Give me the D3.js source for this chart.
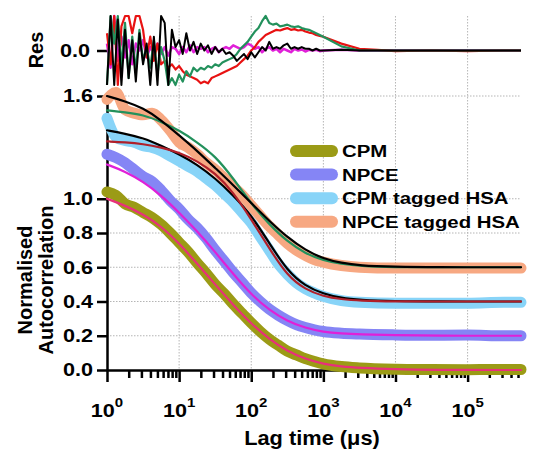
<!DOCTYPE html>
<html>
<head>
<meta charset="utf-8">
<script src="https://cdn.jsdelivr.net/npm/d3@7"></script>
<style>
    body { margin: 0; background: #fff; }
    text { font-family: "Liberation Sans", Arial, sans-serif; font-weight: bold; fill: #000; }
</style>
</head>
<body>
<div id="chart"></div>
<script>
// lag times (us) for the fitted curves
var fitLag = [1, 1.78, 3.16, 5.62, 10, 17.8, 31.6, 56.2, 100, 178, 316, 562, 1000, 1780, 3160, 10000, 31600, 550000];
var cpmFit = [1.00, 0.96, 0.91, 0.84, 0.74, 0.62, 0.50, 0.38, 0.27, 0.18, 0.11, 0.065, 0.035, 0.02, 0.012, 0.004, 0.0, 0.0];
var npceFit = [1.20, 1.16, 1.10, 1.02, 0.92, 0.81, 0.69, 0.56, 0.44, 0.35, 0.285, 0.245, 0.222, 0.213, 0.208, 0.203, 0.20, 0.20];
var cpmHsaFitBlack = [1.40, 1.38, 1.355, 1.31, 1.26, 1.20, 1.12, 1.02, 0.905, 0.74, 0.58, 0.49, 0.445, 0.42, 0.41, 0.402, 0.40, 0.40];
var cpmHsaFitRed = [1.335, 1.33, 1.32, 1.30, 1.27, 1.22, 1.15, 1.04, 0.88, 0.71, 0.55, 0.47, 0.43, 0.413, 0.405, 0.40, 0.40, 0.40];
var npceHsaFitBlack = [1.60, 1.57, 1.53, 1.46, 1.37, 1.28, 1.18, 1.08, 0.975, 0.87, 0.775, 0.70, 0.65, 0.625, 0.61, 0.603, 0.60, 0.60];
var npceHsaFitGreen = [1.516, 1.505, 1.49, 1.45, 1.40, 1.33, 1.25, 1.12, 0.97, 0.85, 0.75, 0.68, 0.64, 0.62, 0.607, 0.60, 0.60, 0.60];

// lag times (us) for the measured curves
var dataLag = [1, 1.33, 1.78, 2.37, 3.16, 4.22, 5.62, 7.5, 10, 13.3, 17.8, 23.7, 31.6, 42.2, 56.2, 75, 100, 133, 178, 237, 316, 422, 562, 750, 1000, 1780, 3160, 10000, 31600, 100000, 316000, 550000];
var cpmData = [1.04, 1.02, 0.97, 0.95, 0.92, 0.89, 0.85, 0.80, 0.745, 0.69, 0.625, 0.565, 0.50, 0.445, 0.385, 0.33, 0.275, 0.225, 0.18, 0.145, 0.11, 0.088, 0.066, 0.05, 0.036, 0.02, 0.012, 0.005, 0.003, 0.002, 0.003, 0.003];
var npceData = [1.26, 1.24, 1.21, 1.17, 1.13, 1.10, 1.05, 0.99, 0.94, 0.88, 0.83, 0.77, 0.70, 0.635, 0.57, 0.51, 0.45, 0.40, 0.355, 0.32, 0.29, 0.265, 0.248, 0.235, 0.225, 0.215, 0.21, 0.205, 0.203, 0.204, 0.20, 0.20];
var cpmHsaData = [1.47, 1.36, 1.34, 1.33, 1.31, 1.30, 1.28, 1.25, 1.22, 1.19, 1.16, 1.12, 1.08, 1.03, 0.98, 0.92, 0.86, 0.78, 0.70, 0.62, 0.56, 0.51, 0.475, 0.45, 0.43, 0.405, 0.395, 0.39, 0.39, 0.39, 0.395, 0.395];
var npceHsaData = [1.58, 1.62, 1.52, 1.50, 1.49, 1.50, 1.46, 1.40, 1.33, 1.30, 1.26, 1.21, 1.17, 1.12, 1.07, 1.02, 0.96, 0.90, 0.84, 0.79, 0.74, 0.70, 0.67, 0.645, 0.63, 0.61, 0.60, 0.595, 0.595, 0.595, 0.595, 0.595];

// residuals (relative units, panel spans -1..1)
var resLag = [1, 1.122, 1.259, 1.413, 1.585, 1.778, 1.995, 2.239, 2.512, 2.818, 3.162, 3.548, 3.981, 4.467, 5.012, 5.623, 6.31, 7.079, 7.943, 8.913,
    10, 11.22, 12.59, 14.13, 15.85, 17.78, 19.95, 22.39, 25.12, 28.18, 31.62, 35.48, 39.81, 44.67, 50.12, 56.23, 63.1, 70.79, 79.43, 89.13,
    100, 112.2, 125.9, 141.3, 158.5, 177.8, 199.5, 223.9, 251.2, 281.8, 316.2, 354.8, 398.1, 446.7, 501.2, 562.3, 631, 707.9, 794.3, 891.3,
    1000, 1778, 3162, 5623, 10000, 31620, 100000, 316200, 550000];
var resMagenta = [0.2, -0.5, 1, -0.3, 0.4, -0.2, 0.3, -0.4, 0.2, 0.0, 0.3, -0.2, 0.1, -0.1, 0.2, -0.1, 0.1, -0.15, 0.1, 0.05,
    -0.1, 0.1, -0.05, 0.15, -0.05, 0.1, 0.05, 0.1, -0.05, 0.05, 0.1, -0.05, 0.05, 0.1, 0.05, 0.15, 0.1, 0.05, 0.1, 0.2,
    0.15, 0.05, 0.1, -0.05, 0.05, 0.1, 0.0, 0.05, -0.05, 0.05, 0.0, -0.05, 0.05, 0.0, 0.03, -0.03, 0.02, 0.0, 0.02, -0.02,
    0.0, 0.02, 0.0, 0.01, 0.0, 0.0, 0.0, 0.0, 0.0];
var resRed = [0.5, -0.4, 1, -1, 0.7, 1, 1, 0.5, 1, 1, 0.6, -0.2, 0.4, -0.3, 0.2, -0.4, -0.3, -0.5, -0.4, -0.55,
    -0.45, -0.6, -0.7, -0.75, -0.8, -0.85, -0.95, -0.9, -0.95, -0.8, -0.75, -0.7, -0.65, -0.6, -0.55, -0.5, -0.45, -0.35, -0.25, -0.15,
    0.0, 0.1, 0.25, 0.35, 0.45, 0.5, 0.55, 0.6, 0.58, 0.62, 0.65, 0.6, 0.62, 0.58, 0.6, 0.55, 0.52, 0.5, 0.45, 0.42,
    0.4, 0.2, 0.05, 0.02, -0.02, 0.0, -0.02, 0.0, 0.0];
var resGreen = [-1, 1, 0.2, 1, -0.5, 0.8, -0.8, 0.4, -0.6, 0.6, -0.3, 0.1, -0.5, 0.3, -0.7, 0.1, -0.3, -1, -0.8, -1,
    -0.7, -0.9, -0.6, -0.75, -0.5, -0.6, -0.5, -0.55, -0.45, -0.5, -0.4, -0.45, -0.35, -0.3, -0.25, -0.2, -0.1, 0.05, 0.15, 0.25,
    0.4, 0.55, 0.65, 0.85, 1.0, 0.8, 0.75, 0.78, 0.7, 0.72, 0.75, 0.7, 0.68, 0.7, 0.65, 0.62, 0.6, 0.55, 0.5, 0.45,
    0.4, 0.12, 0.0, 0.0, 0.0, 0.0, 0.0, 0.0, 0.0];
var resBlack = [-1, 1, -1, 0.9, -1, 0.6, -0.8, 0.3, -0.9, 0.5, -0.4, 0.2, -1, 0.4, -1, 1, 0.8, -1, 0.6, 0.1,
    0.3, -0.1, 0.5, 0.0, 0.25, -0.1, 0.2, 0.0, 0.15, -0.1, 0.1, -0.05, 0.05, -0.1, -0.05, -0.15, -0.3, -0.2, -0.1, -0.25,
    -0.05, -0.2, -0.05, 0.1, 0.0, 0.25, 0.05, 0.1, 0.05, 0.15, 0.2, 0.05, 0.1, 0.05, 0.1, 0.05, 0.05, 0.0, 0.05, 0.0,
    0.0, 0.02, 0.0, 0.0, 0.0, 0.0, 0.0, 0.0, 0.0];

var legendNames = ["CPM", "NPCE", "CPM tagged HSA", "NPCE tagged HSA"];
var yTicks = [0, 0.2, 0.4, 0.6, 0.8, 1.0, 1.6];
var xMajor = [1, 10, 100, 1000, 10000, 100000];
var xExp = ["0", "1", "2", "3", "4", "5"];

var w = 541, h = 450;
var SX = 1.2; // text in the picture is drawn wide

var svg = d3.select("#chart")
    .append("svg")
    .attr("width", w)
    .attr("height", h);

var xscale = d3.scaleLog().domain([1, 550000]).range([107, 521]);
var yscale = d3.scaleLinear().domain([0, 1.6]).range([370, 96]);
var rscale = d3.scaleLinear().domain([-1, 1]).range([85, 16]);

function wideText(g, x, y, str, size, anchor) {
    return g.append("text")
        .attr("transform", "translate(" + x + "," + y + ") scale(" + SX + ",1)")
        .attr("font-size", size)
        .attr("text-anchor", anchor)
        .text(str);
}

// grid
var grid = svg.append("g")
    .attr("stroke", "#b5b5b5")
    .attr("stroke-width", 1)
    .attr("stroke-dasharray", "1.5,1.5");
grid.selectAll("line.v")
    .data(xMajor.slice(1))
    .enter().append("line")
    .attr("x1", function (d) { return xscale(d); })
    .attr("x2", function (d) { return xscale(d); })
    .attr("y1", rscale(1))
    .attr("y2", yscale(0));
grid.selectAll("line.h")
    .data(yTicks.slice(1))
    .enter().append("line")
    .attr("x1", xscale.range()[0])
    .attr("x2", xscale.range()[1])
    .attr("y1", function (d) { return yscale(d); })
    .attr("y2", function (d) { return yscale(d); });

// axes
var yaxis = svg.append("g")
    .attr("transform", "translate(" + xscale.range()[0] + ",0)")
    .call(d3.axisLeft(yscale).tickValues(yTicks).tickSize(10).tickSizeOuter(0).tickFormat(d3.format(".1f")));
yaxis.selectAll("text")
    .attr("x", null)
    .attr("transform", "translate(-14,0) scale(" + SX + ",1)")
    .attr("font-size", 18);

var raxis = svg.append("g")
    .attr("transform", "translate(" + xscale.range()[0] + ",0)")
    .call(d3.axisLeft(rscale).tickValues([0]).tickSize(10).tickFormat(d3.format(".1f")));
raxis.select(".domain").remove();
raxis.selectAll("text")
    .attr("x", null)
    .attr("transform", "translate(-17,0) scale(" + SX + ",1)")
    .attr("font-size", 18);

var xaxis = svg.append("g")
    .attr("transform", "translate(0," + yscale(0) + ")")
    .call(d3.axisBottom(xscale).tickValues(xscale.ticks()).tickSize(8).tickSizeOuter(0).tickFormat(""));
xaxis.selectAll(".tick line")
    .filter(function (d) { return xMajor.indexOf(d) >= 0; })
    .attr("y2", 12);

svg.selectAll(".domain, .tick line")
    .attr("stroke", "#000")
    .attr("stroke-width", 2.5);

xMajor.forEach(function (v, i) {
    var t = wideText(svg, xscale(v), 417, "", 18, "middle");
    t.append("tspan").text("10");
    t.append("tspan").attr("dy", -10).attr("font-size", 12.5).text(xExp[i]);
});

wideText(svg, 312, 445, "Lag time (\u03bcs)", 20, "middle").attr("transform", "translate(312,445) scale(1.09,1)");

svg.append("text")
    .attr("transform", "translate(43,50) rotate(-90)")
    .attr("text-anchor", "middle").attr("font-size", 20).text("Res");
svg.append("text")
    .attr("transform", "translate(32,280) rotate(-90)")
    .attr("text-anchor", "middle").attr("font-size", 20).text("Normalised");
svg.append("text")
    .attr("transform", "translate(53,280) rotate(-90)")
    .attr("text-anchor", "middle").attr("font-size", 20).text("Autocorrelation");

// residuals
function drawRes(vals, color, width) {
    svg.append("path")
        .datum(d3.zip(resLag, vals))
        .attr("d", d3.line()
            .x(function (d) { return xscale(d[0]); })
            .y(function (d) { return rscale(d[1]); }))
        .attr("fill", "none")
        .attr("stroke", color)
        .attr("stroke-width", width)
        .attr("stroke-linejoin", "round");
}
drawRes(resMagenta, "#e020d8", 2.5);
drawRes(resRed, "#e81212", 2.2);
drawRes(resGreen, "#23915c", 2.2);
drawRes(resBlack, "#000", 2);

// correlation curves
function drawCurve(lags, vals, color, width, curve) {
    svg.append("path")
        .datum(d3.zip(lags, vals))
        .attr("d", d3.line()
            .x(function (d) { return xscale(d[0]); })
            .y(function (d) { return yscale(d[1]); })
            .curve(curve))
        .attr("fill", "none")
        .attr("stroke", color)
        .attr("stroke-width", width)
        .attr("stroke-linejoin", "round")
        .attr("stroke-linecap", "round");
}
var bandColors = ["#9b9b16", "#8585f5", "#88d4f8", "#f7a882"];
drawCurve(dataLag, cpmData, bandColors[0], 11, d3.curveMonotoneX);
drawCurve(dataLag, npceData, bandColors[1], 11, d3.curveMonotoneX);
drawCurve(dataLag, cpmHsaData, bandColors[2], 11, d3.curveMonotoneX);
drawCurve(dataLag, npceHsaData, bandColors[3], 11, d3.curveMonotoneX);

drawCurve(fitLag, cpmFit, "#e8307a", 2.2, d3.curveBasis);
drawCurve(fitLag, npceFit, "#e020d8", 2.2, d3.curveBasis);
drawCurve(fitLag, cpmHsaFitBlack, "#000", 2.2, d3.curveBasis);
drawCurve(fitLag, cpmHsaFitRed, "#b0202a", 2.2, d3.curveBasis);
drawCurve(fitLag, npceHsaFitGreen, "#23915c", 2.2, d3.curveBasis);
drawCurve(fitLag, npceHsaFitBlack, "#000", 2.2, d3.curveBasis);

// legend
var legend = svg.append("g");
legendNames.forEach(function (name, i) {
    var y = 151 + i * 23.6;
    legend.append("line")
        .attr("x1", 296).attr("x2", 332)
        .attr("y1", y).attr("y2", y)
        .attr("stroke", bandColors[i])
        .attr("stroke-width", 12)
        .attr("stroke-linecap", "round");
    wideText(legend, 342, y + 6, name, 17, "start");
});
</script>
</body>
</html>
